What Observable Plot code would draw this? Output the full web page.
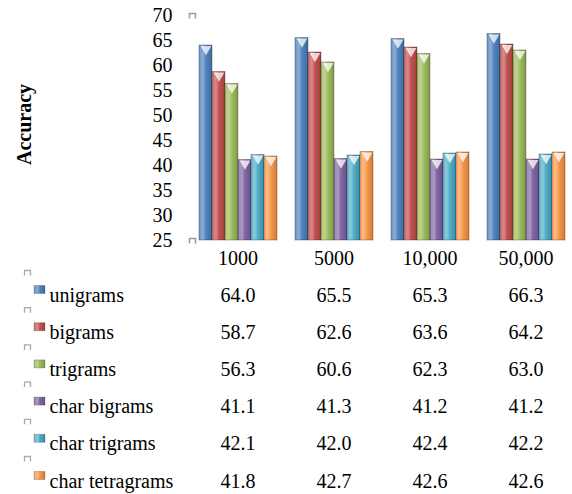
<!DOCTYPE html>
<html>
<head>
<meta charset="utf-8">
<script src="https://cdn.jsdelivr.net/npm/d3@7"></script>
<script src="https://cdn.jsdelivr.net/npm/@observablehq/plot@0.6"></script>
<style>
  html, body { margin: 0; padding: 0; background: #fff; font-family: Liberation Serif, serif; }
</style>
</head>
<body>
<div id="chart"></div>
<script>
// ---- data ----
const groups = ["1000", "5000", "10,000", "50,000"];
const series = ["unigrams", "bigrams", "trigrams", "char bigrams", "char trigrams", "char tetragrams"];
const unigrams       = [64.0, 65.5, 65.3, 66.3];
const bigrams        = [58.7, 62.6, 63.6, 64.2];
const trigrams       = [56.3, 60.6, 62.3, 63.0];
const charBigrams    = [41.1, 41.3, 41.2, 41.2];
const charTrigrams   = [42.1, 42.0, 42.4, 42.2];
const charTetragrams = [41.8, 42.7, 42.6, 42.6];
const yTicks = [25, 30, 35, 40, 45, 50, 55, 60, 65, 70];
const colors = ["#4F81BD", "#C0504D", "#9BBB59", "#8064A2", "#4BACC6", "#F79646"];

const values = [unigrams, bigrams, trigrams, charBigrams, charTrigrams, charTetragrams];
const rows = series.flatMap((s, i) => groups.map((g, j) => ({series: s, group: g, value: values[i][j]})));

const font = "Liberation Serif";
const rowStep = 37.2;
const rowBase = 61;
const first = () => groups[0];

const bracket = {draw(ctx) { ctx.moveTo(-3, 3); ctx.lineTo(-3, -2); ctx.lineTo(3, -2); ctx.lineTo(3, 3); }};
const swatch = {draw(ctx) { ctx.rect(-5.5, -4, 11, 8); }};

const marks = [
  Plot.barY(rows, {fx: "group", x: "series", y1: 25, y2: "value", fill: "series",
    stroke: "#000", strokeOpacity: 0.28, strokeWidth: 1}),
  Plot.dot(rows, {fx: "group", x: "series", y: "value", symbol: "triangle", rotate: 180,
    r: 4, dy: 3.5, fill: "white", fillOpacity: 0.75, stroke: "none"}),
  Plot.axisY({ticks: yTicks, tickSize: 0, tickPadding: 26, label: null, fontSize: 20, fontFamily: font}),
  Plot.axisFx({anchor: "bottom", tickSize: 0, tickPadding: 10, label: null, fontSize: 20, fontFamily: font}),
  Plot.text(["Accuracy"], {fx: first, frameAnchor: "left", textAnchor: "middle", rotate: -90, dx: -174, dy: -3.5,
    fontWeight: "bold", fontSize: 20, fontFamily: font}),
  Plot.dot([0], {fx: first, frameAnchor: "top-left", symbol: bracket, dx: -6, stroke: "#999", strokeWidth: 1.5, fill: "none"}),
  Plot.dot([0], {fx: first, frameAnchor: "bottom-left", symbol: bracket, dx: -6, stroke: "#999", strokeWidth: 1.5, fill: "none"})
];

series.forEach((s, i) => {
  const dy = rowBase + i * rowStep;
  marks.push(
    Plot.text(groups.map((g, j) => ({group: g, v: values[i][j]})), {
      fx: "group", text: d => d.v.toFixed(1), frameAnchor: "bottom", lineAnchor: "bottom",
      dy, fontSize: 20, fontFamily: font
    }),
    Plot.text([s], {fx: first, text: d => d, frameAnchor: "bottom-left", textAnchor: "start",
      lineAnchor: "bottom", dx: -149, dy, fontSize: 20, fontFamily: font}),
    Plot.dot([s], {fx: first, frameAnchor: "bottom-left", symbol: swatch, fill: d => d,
      stroke: "#000", strokeOpacity: 0.25, strokeWidth: 0.8, dx: -159, dy: dy - 12}),
    Plot.dot([s], {fx: first, frameAnchor: "bottom-left", symbol: bracket, dx: -171, dy: dy - 29,
      stroke: "#aaa", strokeWidth: 1.3, fill: "none"})
  );
});

const chart = Plot.plot({
  width: 572,
  height: 494,
  marginTop: 15,
  marginBottom: 254,
  marginLeft: 190,
  marginRight: 0,
  style: "font-family: Liberation Serif, serif; font-size: 20px; color: #000; background: #fff; overflow: visible;",
  fx: {domain: groups, paddingInner: 0.18, paddingOuter: 0.073, label: null},
  x: {domain: series, padding: 0, axis: null},
  y: {domain: [25, 70], axis: null},
  color: {domain: series, range: series.map((s, i) => `url(#grad${i})`)},
  marks
});

// gradients for the Excel-like bevelled bars
const svgEl = chart.tagName.toLowerCase() === "svg" ? chart : chart.querySelector("svg");
const ns = "http://www.w3.org/2000/svg";
const defs = document.createElementNS(ns, "defs");
colors.forEach((c, i) => {
  const g = document.createElementNS(ns, "linearGradient");
  g.setAttribute("id", `grad${i}`);
  g.setAttribute("x1", "0"); g.setAttribute("x2", "1"); g.setAttribute("y1", "0"); g.setAttribute("y2", "0");
  const base = d3.color(c);
  const stops = [
    [0, d3.interpolateRgb(c, "#fff")(0.15)],
    [0.3, d3.interpolateRgb(c, "#fff")(0.35)],
    [0.55, c],
    [1, base.darker(0.5).formatHex()]
  ];
  stops.forEach(([o, col]) => {
    const st = document.createElementNS(ns, "stop");
    st.setAttribute("offset", o);
    st.setAttribute("stop-color", col);
    g.appendChild(st);
  });
  defs.appendChild(g);
});
svgEl.insertBefore(defs, svgEl.firstChild);

document.getElementById("chart").appendChild(chart);
</script>
</body>
</html>
